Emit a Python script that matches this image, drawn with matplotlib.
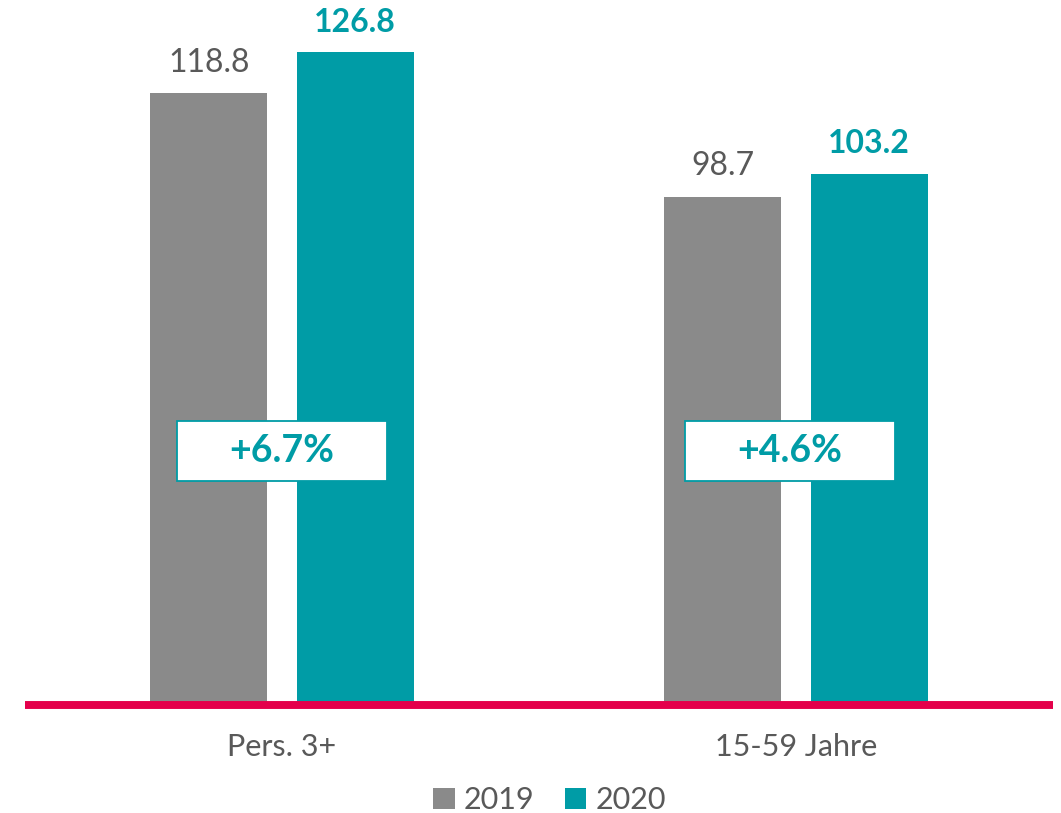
import matplotlib.pyplot as plt
from matplotlib.patches import Rectangle

categories = ["Pers. 3+", "15-59 Jahre"]
values_2019 = [118.8, 98.7]
values_2020 = [126.8, 103.2]
changes = ["+6.7%", "+4.6%"]
series_labels = ["2019", "2020"]

GRAY = "#8a8a8a"
TEAL = "#009ca6"
RED = "#e4004b"
TEXT = "#595959"

plt.rcParams["font.family"] = ["Lato", "DejaVu Sans"]

fig = plt.figure(figsize=(10.61, 8.13), dpi=100)
ax = fig.add_axes([25 / 1061, 108 / 813, 1028 / 1061, 695 / 813])

x = list(range(len(categories)))
w = 0.2276
off = 0.1425
b1 = ax.bar([i - off for i in x], values_2019, w, color=GRAY, label=series_labels[0])
b2 = ax.bar([i + off for i in x], values_2020, w, color=TEAL, label=series_labels[1])

box_x = [0.0, 0.988]
for i in x:
    ax.text(i - off, values_2019[i] + 3, f"{values_2019[i]:.1f}", ha="center", va="bottom",
            fontsize=23, color=TEXT)
    ax.text(i + off, values_2020[i] + 3, f"{values_2020[i]:.1f}", ha="center", va="bottom",
            fontsize=23, color=TEAL, fontweight="bold")
    # change box
    bw, bh = 0.4086, 11.65
    ax.add_patch(Rectangle((box_x[i] - bw / 2, 49.3 - bh / 2), bw, bh, facecolor="white",
                           edgecolor=TEAL, linewidth=1.3, zorder=3))
    ax.text(box_x[i], 49.3, changes[i], ha="center", va="center", fontsize=27,
            fontweight="bold", color=TEAL, zorder=4)

ax.axhline(0, color=RED, linewidth=5.7, zorder=5, clip_on=False, solid_capstyle="butt")
ax.set_xlim(-0.5, 1.5)
ax.set_ylim(0, 135)
ax.set_xticks(x)
ax.set_xticklabels(categories, fontsize=22, color=TEXT)
ax.tick_params(axis="x", length=0, pad=20)
ax.set_yticks([])
for s in ax.spines.values():
    s.set_visible(False)

leg = fig.legend(handles=[b1, b2], labels=series_labels, loc="lower center",
                 bbox_to_anchor=(0.518, -0.035), ncol=2, frameon=False, fontsize=22,
                 handlelength=0.7, handleheight=0.7, handletextpad=0.3, columnspacing=1.0)
for t in leg.get_texts():
    t.set_color(TEXT)

fig.savefig("out.png", dpi=100)
